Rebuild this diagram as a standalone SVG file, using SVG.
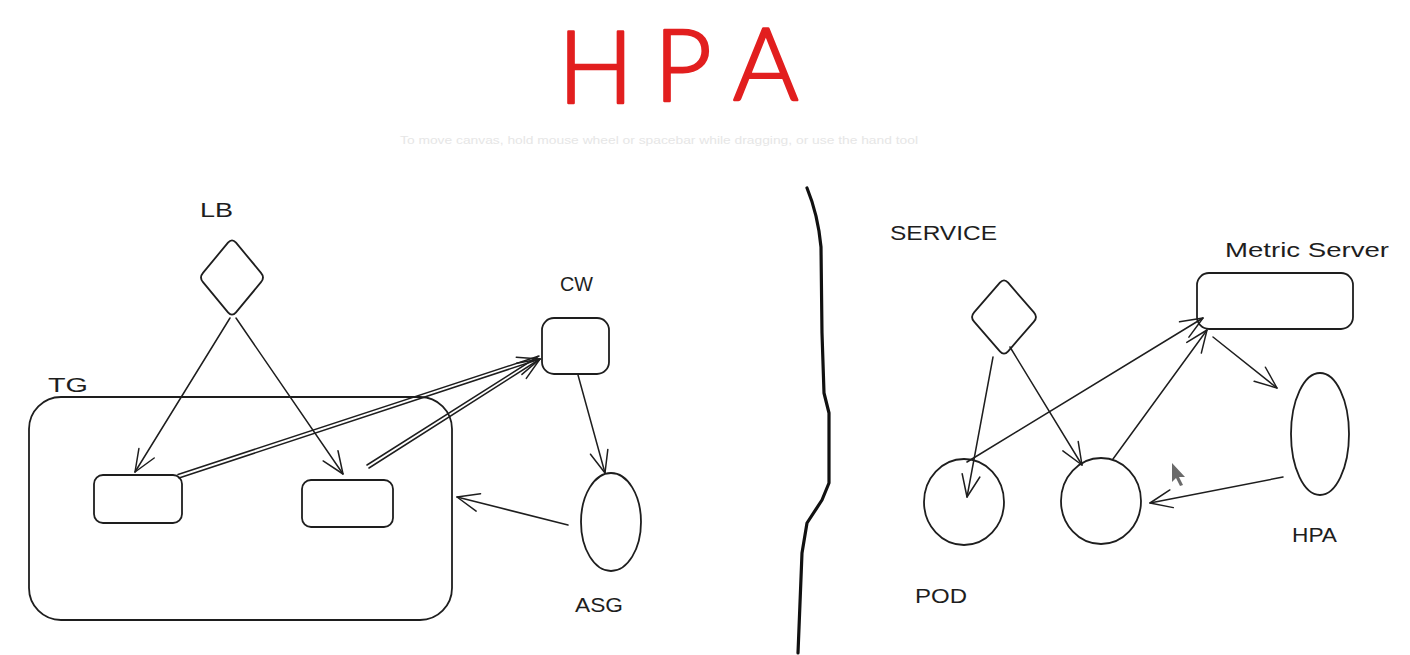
<svg xmlns="http://www.w3.org/2000/svg" width="1410" height="655" viewBox="0 0 1410 655">
<style>
.sh{fill:none;stroke:#1e1e1e;stroke-width:1.8;stroke-linejoin:round;stroke-linecap:round}
.ln{fill:none;stroke:#1e1e1e;stroke-width:1.5;stroke-linecap:round}
.lbl{font-family:"Liberation Sans",Arial,sans-serif;font-size:21px;fill:#1e1e1e}
.title{font-family:Lato,"Liberation Sans",sans-serif;font-weight:300;font-size:100px;fill:#e21f1f;stroke:#e21f1f;stroke-width:2.5;stroke-linejoin:round}
.hint{font-family:"Liberation Sans",Arial,sans-serif;font-size:11px;fill:#e6e6e6}
</style>
<defs>
<marker id="ah" viewBox="-24 -11 26 22" refX="0" refY="0" markerWidth="26" markerHeight="22" markerUnits="userSpaceOnUse" orient="auto">
<path d="M -22 -9 L 0 0 L -22 9" fill="none" stroke="#1e1e1e" stroke-width="1.5" stroke-linecap="round" stroke-linejoin="round"/>
</marker>
</defs>
<rect width="1410" height="655" fill="#ffffff"/>

<g id="title">
<text class="title"><tspan x="558" y="103">H</tspan><tspan x="654" y="101">P</tspan><tspan x="733" y="100">A</tspan></text>
</g>
<text class="hint" x="400" y="144" textLength="518" lengthAdjust="spacingAndGlyphs">To move canvas, hold mouse wheel or spacebar while dragging, or use the hand tool</text>

<g id="divider">
<path d="M 807 188 C 814 205 819 225 821 247 L 822 333 L 824 393 L 829 413 L 829 483 L 822 500 L 807 523 L 802 553 L 798 653" fill="none" stroke="#111" stroke-width="3.2" stroke-linecap="round" stroke-linejoin="round"/>
</g>

<g id="LB">
<path class="sh" d="M 236 242.7 L 261 272.8 Q 265 277.5 261 282.2 L 236 312.3 Q 232 317 228 312.3 L 203 282.2 Q 199 277.5 203 272.8 L 228 242.7 Q 232 238 236 242.7 Z"/>
<text class="lbl" x="200" y="217" textLength="33" lengthAdjust="spacingAndGlyphs">LB</text>
</g>
<g id="TG">
<rect class="sh" x="29" y="397" width="423" height="223" rx="32"/>
<text class="lbl" x="48" y="392" textLength="40" lengthAdjust="spacingAndGlyphs">TG</text>
</g>
<g id="target1"><rect class="sh" x="94" y="475" width="88" height="48" rx="9"/></g>
<g id="target2"><rect class="sh" x="302" y="480" width="91" height="47" rx="9"/></g>
<g id="CW">
<rect class="sh" x="542" y="318" width="67" height="56" rx="12"/>
<text class="lbl" x="560" y="291" textLength="33" lengthAdjust="spacingAndGlyphs">CW</text>
</g>
<g id="ASG">
<ellipse class="sh" cx="611" cy="522" rx="30" ry="49"/>
<text class="lbl" x="575" y="612" textLength="48" lengthAdjust="spacingAndGlyphs">ASG</text>
</g>

<g id="SERVICE">
<path class="sh" d="M 1008.1 282.7 L 1033.9 312.3 Q 1038 317 1033.9 321.7 L 1008.1 351.3 Q 1004 356 999.9 351.3 L 974.1 321.7 Q 970 317 974.1 312.3 L 999.9 282.7 Q 1004 278 1008.1 282.7 Z"/>
<text class="lbl" x="890" y="240" textLength="107" lengthAdjust="spacingAndGlyphs">SERVICE</text>
</g>
<g id="MetricServer">
<rect class="sh" x="1197" y="273" width="156" height="56" rx="12"/>
<text class="lbl" x="1225" y="257" textLength="164" lengthAdjust="spacingAndGlyphs">Metric Server</text>
</g>
<g id="HPA">
<ellipse class="sh" cx="1320" cy="434" rx="29" ry="61"/>
<text class="lbl" x="1292" y="542" textLength="45" lengthAdjust="spacingAndGlyphs">HPA</text>
</g>
<g id="pod1"><ellipse class="sh" cx="964" cy="502" rx="40" ry="43"/></g>
<g id="pod2"><ellipse class="sh" cx="1101" cy="501" rx="40" ry="43"/></g>
<g id="POD"><text class="lbl" x="915" y="603" textLength="52" lengthAdjust="spacingAndGlyphs">POD</text></g>

<g id="connectors">
<line class="ln" x1="230" y1="318" x2="135" y2="472" marker-end="url(#ah)"/>
<line class="ln" x1="236" y1="318" x2="343" y2="474" marker-end="url(#ah)"/>
<line class="ln" x1="178" y1="474.5" x2="539" y2="356" />
<line class="ln" x1="179" y1="478" x2="540" y2="359" marker-end="url(#ah)"/>
<line class="ln" x1="367" y1="465" x2="538" y2="356.5"/>
<line class="ln" x1="369" y1="468" x2="540" y2="359" marker-end="url(#ah)"/>
<line class="ln" x1="578" y1="375" x2="605" y2="473" marker-end="url(#ah)"/>
<line class="ln" x1="568" y1="525" x2="457" y2="497" marker-end="url(#ah)"/>
<line class="ln" x1="993" y1="357" x2="967" y2="497" marker-end="url(#ah)"/>
<line class="ln" x1="1010" y1="347" x2="1082" y2="465" marker-end="url(#ah)"/>
<line class="ln" x1="967" y1="462" x2="1203" y2="318" marker-end="url(#ah)"/>
<line class="ln" x1="1113" y1="459" x2="1207" y2="330" marker-end="url(#ah)"/>
<line class="ln" x1="1213" y1="337" x2="1277" y2="388" marker-end="url(#ah)"/>
<line class="ln" x1="1283" y1="477" x2="1150" y2="503" marker-end="url(#ah)"/>
</g>

<path d="M 1172 463 L 1172 482 L 1176 478 L 1180 486 L 1183 485 L 1179 477 L 1185 477 Z" fill="#6a6a6a"/>
</svg>
